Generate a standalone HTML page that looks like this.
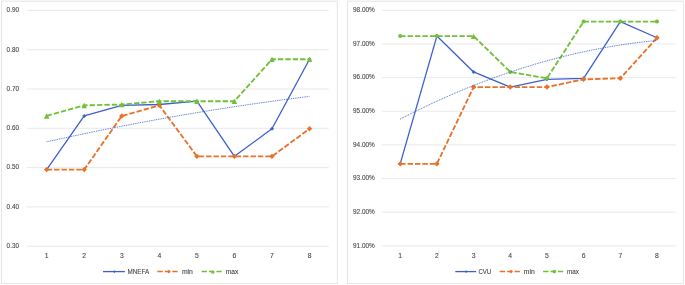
<!DOCTYPE html>
<html><head><meta charset="utf-8"><title>Charts</title>
<style>html,body{margin:0;padding:0;background:#fff}svg{display:block}
text{font-family:"Liberation Sans",sans-serif;font-size:7.4px;fill:#444444;stroke:#444444;stroke-width:0.1px}</style></head>
<body><svg width="685" height="285" viewBox="0 0 685 285">
<rect width="685" height="285" fill="#fff"/>
<rect x="1.4" y="1.15" width="335.90" height="282.45" fill="#fff" stroke="#E2E2E2" stroke-width="0.9"/>
<line x1="27.10" x2="328.80" y1="10.45" y2="10.45" stroke="#E0E0E0" stroke-width="0.7"/>
<text x="6.6" y="12.25" textLength="12.4" lengthAdjust="spacingAndGlyphs">0.90</text>
<line x1="27.10" x2="328.80" y1="49.74" y2="49.74" stroke="#E0E0E0" stroke-width="0.7"/>
<text x="6.6" y="51.54" textLength="12.4" lengthAdjust="spacingAndGlyphs">0.80</text>
<line x1="27.10" x2="328.80" y1="89.03" y2="89.03" stroke="#E0E0E0" stroke-width="0.7"/>
<text x="6.6" y="90.83" textLength="12.4" lengthAdjust="spacingAndGlyphs">0.70</text>
<line x1="27.10" x2="328.80" y1="128.32" y2="128.32" stroke="#E0E0E0" stroke-width="0.7"/>
<text x="6.6" y="130.12" textLength="12.4" lengthAdjust="spacingAndGlyphs">0.60</text>
<line x1="27.10" x2="328.80" y1="167.62" y2="167.62" stroke="#E0E0E0" stroke-width="0.7"/>
<text x="6.6" y="169.42" textLength="12.4" lengthAdjust="spacingAndGlyphs">0.50</text>
<line x1="27.10" x2="328.80" y1="206.91" y2="206.91" stroke="#E0E0E0" stroke-width="0.7"/>
<text x="6.6" y="208.71" textLength="12.4" lengthAdjust="spacingAndGlyphs">0.40</text>
<line x1="27.10" x2="328.80" y1="246.20" y2="246.20" stroke="#E0E0E0" stroke-width="0.7"/>
<text x="6.6" y="248.00" textLength="12.4" lengthAdjust="spacingAndGlyphs">0.30</text>
<text x="46.67" y="257.85" text-anchor="middle" textLength="3.8" lengthAdjust="spacingAndGlyphs">1</text>
<text x="84.22" y="257.85" text-anchor="middle" textLength="3.8" lengthAdjust="spacingAndGlyphs">2</text>
<text x="121.78" y="257.85" text-anchor="middle" textLength="3.8" lengthAdjust="spacingAndGlyphs">3</text>
<text x="159.33" y="257.85" text-anchor="middle" textLength="3.8" lengthAdjust="spacingAndGlyphs">4</text>
<text x="196.88" y="257.85" text-anchor="middle" textLength="3.8" lengthAdjust="spacingAndGlyphs">5</text>
<text x="234.43" y="257.85" text-anchor="middle" textLength="3.8" lengthAdjust="spacingAndGlyphs">6</text>
<text x="271.98" y="257.85" text-anchor="middle" textLength="3.8" lengthAdjust="spacingAndGlyphs">7</text>
<text x="309.53" y="257.85" text-anchor="middle" textLength="3.8" lengthAdjust="spacingAndGlyphs">8</text>
<polyline points="46.67,169.58 84.22,115.95 121.78,105.34 159.33,104.51 196.88,101.21 234.43,156.34 271.98,128.80 309.53,59.29" fill="none" stroke="#3B60CE" stroke-width="1.3" stroke-linejoin="round"/>
<path d="M44.67 169.58L46.67 167.58L48.67 169.58L46.67 171.58Z" fill="#3B60CE"/>
<path d="M82.22 115.95L84.22 113.95L86.22 115.95L84.22 117.95Z" fill="#3B60CE"/>
<path d="M119.78 105.34L121.78 103.34L123.78 105.34L121.78 107.34Z" fill="#3B60CE"/>
<path d="M157.33 104.51L159.33 102.51L161.33 104.51L159.33 106.51Z" fill="#3B60CE"/>
<path d="M194.88 101.21L196.88 99.21L198.88 101.21L196.88 103.21Z" fill="#3B60CE"/>
<path d="M232.43 156.34L234.43 154.34L236.43 156.34L234.43 158.34Z" fill="#3B60CE"/>
<path d="M269.98 128.80L271.98 126.80L273.98 128.80L271.98 130.80Z" fill="#3B60CE"/>
<path d="M307.53 59.29L309.53 57.29L311.53 59.29L309.53 61.29Z" fill="#3B60CE"/>
<polyline points="46.67,169.58 84.22,169.58 121.78,115.95 159.33,105.34 196.88,156.34 234.43,156.34 271.98,156.34 309.53,128.80" fill="none" stroke="#E8722A" stroke-width="1.85" stroke-dasharray="5.4 2" stroke-linejoin="round"/>
<path d="M43.97 169.58L46.67 166.88L49.38 169.58L46.67 172.28Z" fill="#E8722A"/>
<path d="M81.52 169.58L84.22 166.88L86.92 169.58L84.22 172.28Z" fill="#E8722A"/>
<path d="M119.08 115.95L121.78 113.25L124.48 115.95L121.78 118.65Z" fill="#E8722A"/>
<path d="M156.63 105.34L159.33 102.64L162.03 105.34L159.33 108.04Z" fill="#E8722A"/>
<path d="M194.18 156.34L196.88 153.64L199.58 156.34L196.88 159.04Z" fill="#E8722A"/>
<path d="M231.73 156.34L234.43 153.64L237.13 156.34L234.43 159.04Z" fill="#E8722A"/>
<path d="M269.28 156.34L271.98 153.64L274.68 156.34L271.98 159.04Z" fill="#E8722A"/>
<path d="M306.83 128.80L309.53 126.10L312.23 128.80L309.53 131.50Z" fill="#E8722A"/>
<polyline points="46.67,115.95 84.22,105.34 121.78,104.51 159.33,101.21 196.88,101.21 234.43,101.21 271.98,59.29 309.53,59.29" fill="none" stroke="#70C03A" stroke-width="1.85" stroke-dasharray="5.4 2" stroke-linejoin="round"/>
<path d="M43.88 118.75L46.67 113.35L49.47 118.75Z" fill="#70C03A"/>
<path d="M81.42 108.14L84.22 102.74L87.02 108.14Z" fill="#70C03A"/>
<path d="M118.98 107.31L121.78 101.91L124.58 107.31Z" fill="#70C03A"/>
<path d="M156.53 104.01L159.33 98.61L162.13 104.01Z" fill="#70C03A"/>
<path d="M194.08 104.01L196.88 98.61L199.68 104.01Z" fill="#70C03A"/>
<path d="M231.63 104.01L234.43 98.61L237.23 104.01Z" fill="#70C03A"/>
<path d="M269.18 62.09L271.98 56.69L274.78 62.09Z" fill="#70C03A"/>
<path d="M306.73 62.09L309.53 56.69L312.33 62.09Z" fill="#70C03A"/>
<polyline points="46.67,141.83 53.41,140.34 60.15,138.87 66.89,137.41 73.63,135.97 80.37,134.55 87.11,133.14 93.85,131.75 100.59,130.38 107.33,129.03 114.07,127.69 120.81,126.37 127.55,125.07 134.29,123.78 141.03,122.52 147.77,121.26 154.51,120.03 161.25,118.81 167.99,117.61 174.73,116.43 181.47,115.27 188.21,114.12 194.95,112.99 201.69,111.87 208.43,110.78 215.17,109.70 221.91,108.64 228.65,107.59 235.39,106.57 242.13,105.55 248.87,104.56 255.61,103.59 262.35,102.63 269.09,101.69 275.83,100.76 282.57,99.85 289.31,98.96 296.05,98.09 302.79,97.23 309.53,96.40" fill="none" stroke="#3B60CE" stroke-width="0.95" stroke-dasharray="0.9 0.9"/>
<line x1="103.0" x2="124.9" y1="271.6" y2="271.6" stroke="#3B60CE" stroke-width="1.3"/>
<path d="M112.95 271.60L114.35 270.20L115.75 271.60L114.35 273.00Z" fill="#3B60CE"/>
<text x="127.4" y="274.30" textLength="21.8" lengthAdjust="spacingAndGlyphs">MNEFA</text>
<line x1="157.4" x2="177.8" y1="271.6" y2="271.6" stroke="#E8722A" stroke-width="1.5" stroke-dasharray="5.4 2"/>
<path d="M167.00 271.60L168.80 269.80L170.60 271.60L168.80 273.40Z" fill="#E8722A"/>
<text x="181.9" y="274.30" textLength="11.0" lengthAdjust="spacingAndGlyphs">min</text>
<line x1="201.6" x2="221.6" y1="271.6" y2="271.6" stroke="#70C03A" stroke-width="1.5" stroke-dasharray="5.4 2"/>
<path d="M210.90 273.50L212.80 269.90L214.70 273.50Z" fill="#70C03A"/>
<text x="225.7" y="274.30" textLength="12.7" lengthAdjust="spacingAndGlyphs">max</text>
<rect x="347.6" y="1.15" width="335.80" height="282.45" fill="#fff" stroke="#E2E2E2" stroke-width="0.9"/>
<line x1="381.75" x2="675.85" y1="10.35" y2="10.35" stroke="#E0E0E0" stroke-width="0.7"/>
<text x="353.0" y="12.15" textLength="21.8" lengthAdjust="spacingAndGlyphs">98.00%</text>
<line x1="381.75" x2="675.85" y1="43.99" y2="43.99" stroke="#E0E0E0" stroke-width="0.7"/>
<text x="353.0" y="45.79" textLength="21.8" lengthAdjust="spacingAndGlyphs">97.00%</text>
<line x1="381.75" x2="675.85" y1="77.64" y2="77.64" stroke="#E0E0E0" stroke-width="0.7"/>
<text x="353.0" y="79.44" textLength="21.8" lengthAdjust="spacingAndGlyphs">96.00%</text>
<line x1="381.75" x2="675.85" y1="111.28" y2="111.28" stroke="#E0E0E0" stroke-width="0.7"/>
<text x="353.0" y="113.08" textLength="21.8" lengthAdjust="spacingAndGlyphs">95.00%</text>
<line x1="381.75" x2="675.85" y1="144.92" y2="144.92" stroke="#E0E0E0" stroke-width="0.7"/>
<text x="353.0" y="146.72" textLength="21.8" lengthAdjust="spacingAndGlyphs">94.00%</text>
<line x1="381.75" x2="675.85" y1="178.56" y2="178.56" stroke="#E0E0E0" stroke-width="0.7"/>
<text x="353.0" y="180.36" textLength="21.8" lengthAdjust="spacingAndGlyphs">93.00%</text>
<line x1="381.75" x2="675.85" y1="212.21" y2="212.21" stroke="#E0E0E0" stroke-width="0.7"/>
<text x="353.0" y="214.01" textLength="21.8" lengthAdjust="spacingAndGlyphs">92.00%</text>
<line x1="381.75" x2="675.85" y1="245.85" y2="245.85" stroke="#E0E0E0" stroke-width="0.7"/>
<text x="353.0" y="247.65" textLength="21.8" lengthAdjust="spacingAndGlyphs">91.00%</text>
<text x="400.19" y="257.85" text-anchor="middle" textLength="3.8" lengthAdjust="spacingAndGlyphs">1</text>
<text x="436.88" y="257.85" text-anchor="middle" textLength="3.8" lengthAdjust="spacingAndGlyphs">2</text>
<text x="473.57" y="257.85" text-anchor="middle" textLength="3.8" lengthAdjust="spacingAndGlyphs">3</text>
<text x="510.26" y="257.85" text-anchor="middle" textLength="3.8" lengthAdjust="spacingAndGlyphs">4</text>
<text x="546.94" y="257.85" text-anchor="middle" textLength="3.8" lengthAdjust="spacingAndGlyphs">5</text>
<text x="583.63" y="257.85" text-anchor="middle" textLength="3.8" lengthAdjust="spacingAndGlyphs">6</text>
<text x="620.32" y="257.85" text-anchor="middle" textLength="3.8" lengthAdjust="spacingAndGlyphs">7</text>
<text x="657.01" y="257.85" text-anchor="middle" textLength="3.8" lengthAdjust="spacingAndGlyphs">8</text>
<polyline points="400.19,163.86 436.88,36.09 473.57,71.92 510.26,87.06 546.94,79.32 583.63,78.31 620.32,21.62 657.01,37.77" fill="none" stroke="#3B60CE" stroke-width="1.3" stroke-linejoin="round"/>
<path d="M398.19 163.86L400.19 161.86L402.19 163.86L400.19 165.86Z" fill="#3B60CE"/>
<path d="M434.88 36.09L436.88 34.09L438.88 36.09L436.88 38.09Z" fill="#3B60CE"/>
<path d="M471.57 71.92L473.57 69.92L475.57 71.92L473.57 73.92Z" fill="#3B60CE"/>
<path d="M508.26 87.06L510.26 85.06L512.26 87.06L510.26 89.06Z" fill="#3B60CE"/>
<path d="M544.94 79.32L546.94 77.32L548.94 79.32L546.94 81.32Z" fill="#3B60CE"/>
<path d="M581.63 78.31L583.63 76.31L585.63 78.31L583.63 80.31Z" fill="#3B60CE"/>
<path d="M618.32 21.62L620.32 19.62L622.32 21.62L620.32 23.62Z" fill="#3B60CE"/>
<path d="M655.01 37.77L657.01 35.77L659.01 37.77L657.01 39.77Z" fill="#3B60CE"/>
<polyline points="400.19,163.86 436.88,163.86 473.57,87.06 510.26,87.06 546.94,87.06 583.63,79.32 620.32,78.31 657.01,37.77" fill="none" stroke="#E8722A" stroke-width="1.85" stroke-dasharray="5.4 2" stroke-linejoin="round"/>
<path d="M397.49 163.86L400.19 161.16L402.89 163.86L400.19 166.56Z" fill="#E8722A"/>
<path d="M434.18 163.86L436.88 161.16L439.58 163.86L436.88 166.56Z" fill="#E8722A"/>
<path d="M470.87 87.06L473.57 84.36L476.27 87.06L473.57 89.76Z" fill="#E8722A"/>
<path d="M507.56 87.06L510.26 84.36L512.96 87.06L510.26 89.76Z" fill="#E8722A"/>
<path d="M544.24 87.06L546.94 84.36L549.64 87.06L546.94 89.76Z" fill="#E8722A"/>
<path d="M580.93 79.32L583.63 76.62L586.33 79.32L583.63 82.02Z" fill="#E8722A"/>
<path d="M617.62 78.31L620.32 75.61L623.02 78.31L620.32 81.01Z" fill="#E8722A"/>
<path d="M654.31 37.77L657.01 35.07L659.71 37.77L657.01 40.47Z" fill="#E8722A"/>
<polyline points="400.19,36.09 436.88,36.09 473.57,36.09 510.26,71.92 546.94,78.31 583.63,21.62 620.32,21.62 657.01,21.62" fill="none" stroke="#70C03A" stroke-width="1.85" stroke-dasharray="5.4 2" stroke-linejoin="round"/>
<circle cx="400.19" cy="36.09" r="2.0" fill="#70C03A"/>
<circle cx="436.88" cy="36.09" r="2.0" fill="#70C03A"/>
<path d="M470.77 38.89L473.57 33.49L476.37 38.89Z" fill="#70C03A"/>
<circle cx="510.26" cy="71.92" r="2.0" fill="#70C03A"/>
<circle cx="546.94" cy="78.31" r="2.0" fill="#70C03A"/>
<circle cx="583.63" cy="21.62" r="2.0" fill="#70C03A"/>
<circle cx="620.32" cy="21.62" r="2.0" fill="#70C03A"/>
<circle cx="657.01" cy="21.62" r="2.0" fill="#70C03A"/>
<polyline points="400.19,119.08 406.78,115.71 413.36,112.40 419.95,109.17 426.53,106.01 433.12,102.92 439.70,99.90 446.29,96.95 452.87,94.08 459.46,91.28 466.04,88.54 472.63,85.88 479.21,83.29 485.80,80.78 492.38,78.33 498.97,75.96 505.55,73.66 512.14,71.43 518.72,69.27 525.31,67.18 531.89,65.16 538.48,63.22 545.06,61.34 551.65,59.54 558.23,57.81 564.82,56.16 571.40,54.57 577.99,53.05 584.57,51.61 591.16,50.24 597.74,48.94 604.33,47.71 610.91,46.55 617.50,45.46 624.08,44.45 630.67,43.51 637.25,42.64 643.84,41.84 650.42,41.11 657.01,40.45" fill="none" stroke="#3B60CE" stroke-width="0.95" stroke-dasharray="0.9 0.9"/>
<line x1="455.3" x2="476.1" y1="271.6" y2="271.6" stroke="#3B60CE" stroke-width="1.3"/>
<path d="M464.70 271.60L466.10 270.20L467.50 271.60L466.10 273.00Z" fill="#3B60CE"/>
<text x="478.5" y="274.30" textLength="12.7" lengthAdjust="spacingAndGlyphs">CVU</text>
<line x1="499.7" x2="519.9" y1="271.6" y2="271.6" stroke="#E8722A" stroke-width="1.5" stroke-dasharray="5.4 2"/>
<path d="M509.20 271.60L511.00 269.80L512.80 271.60L511.00 273.40Z" fill="#E8722A"/>
<text x="523.8" y="274.30" textLength="11.0" lengthAdjust="spacingAndGlyphs">min</text>
<line x1="543.1" x2="563.2" y1="271.6" y2="271.6" stroke="#70C03A" stroke-width="1.5" stroke-dasharray="5.4 2"/>
<circle cx="554.35" cy="271.60" r="1.8" fill="#70C03A"/>
<text x="567.0" y="274.30" textLength="12.0" lengthAdjust="spacingAndGlyphs">max</text>
</svg></body></html>
